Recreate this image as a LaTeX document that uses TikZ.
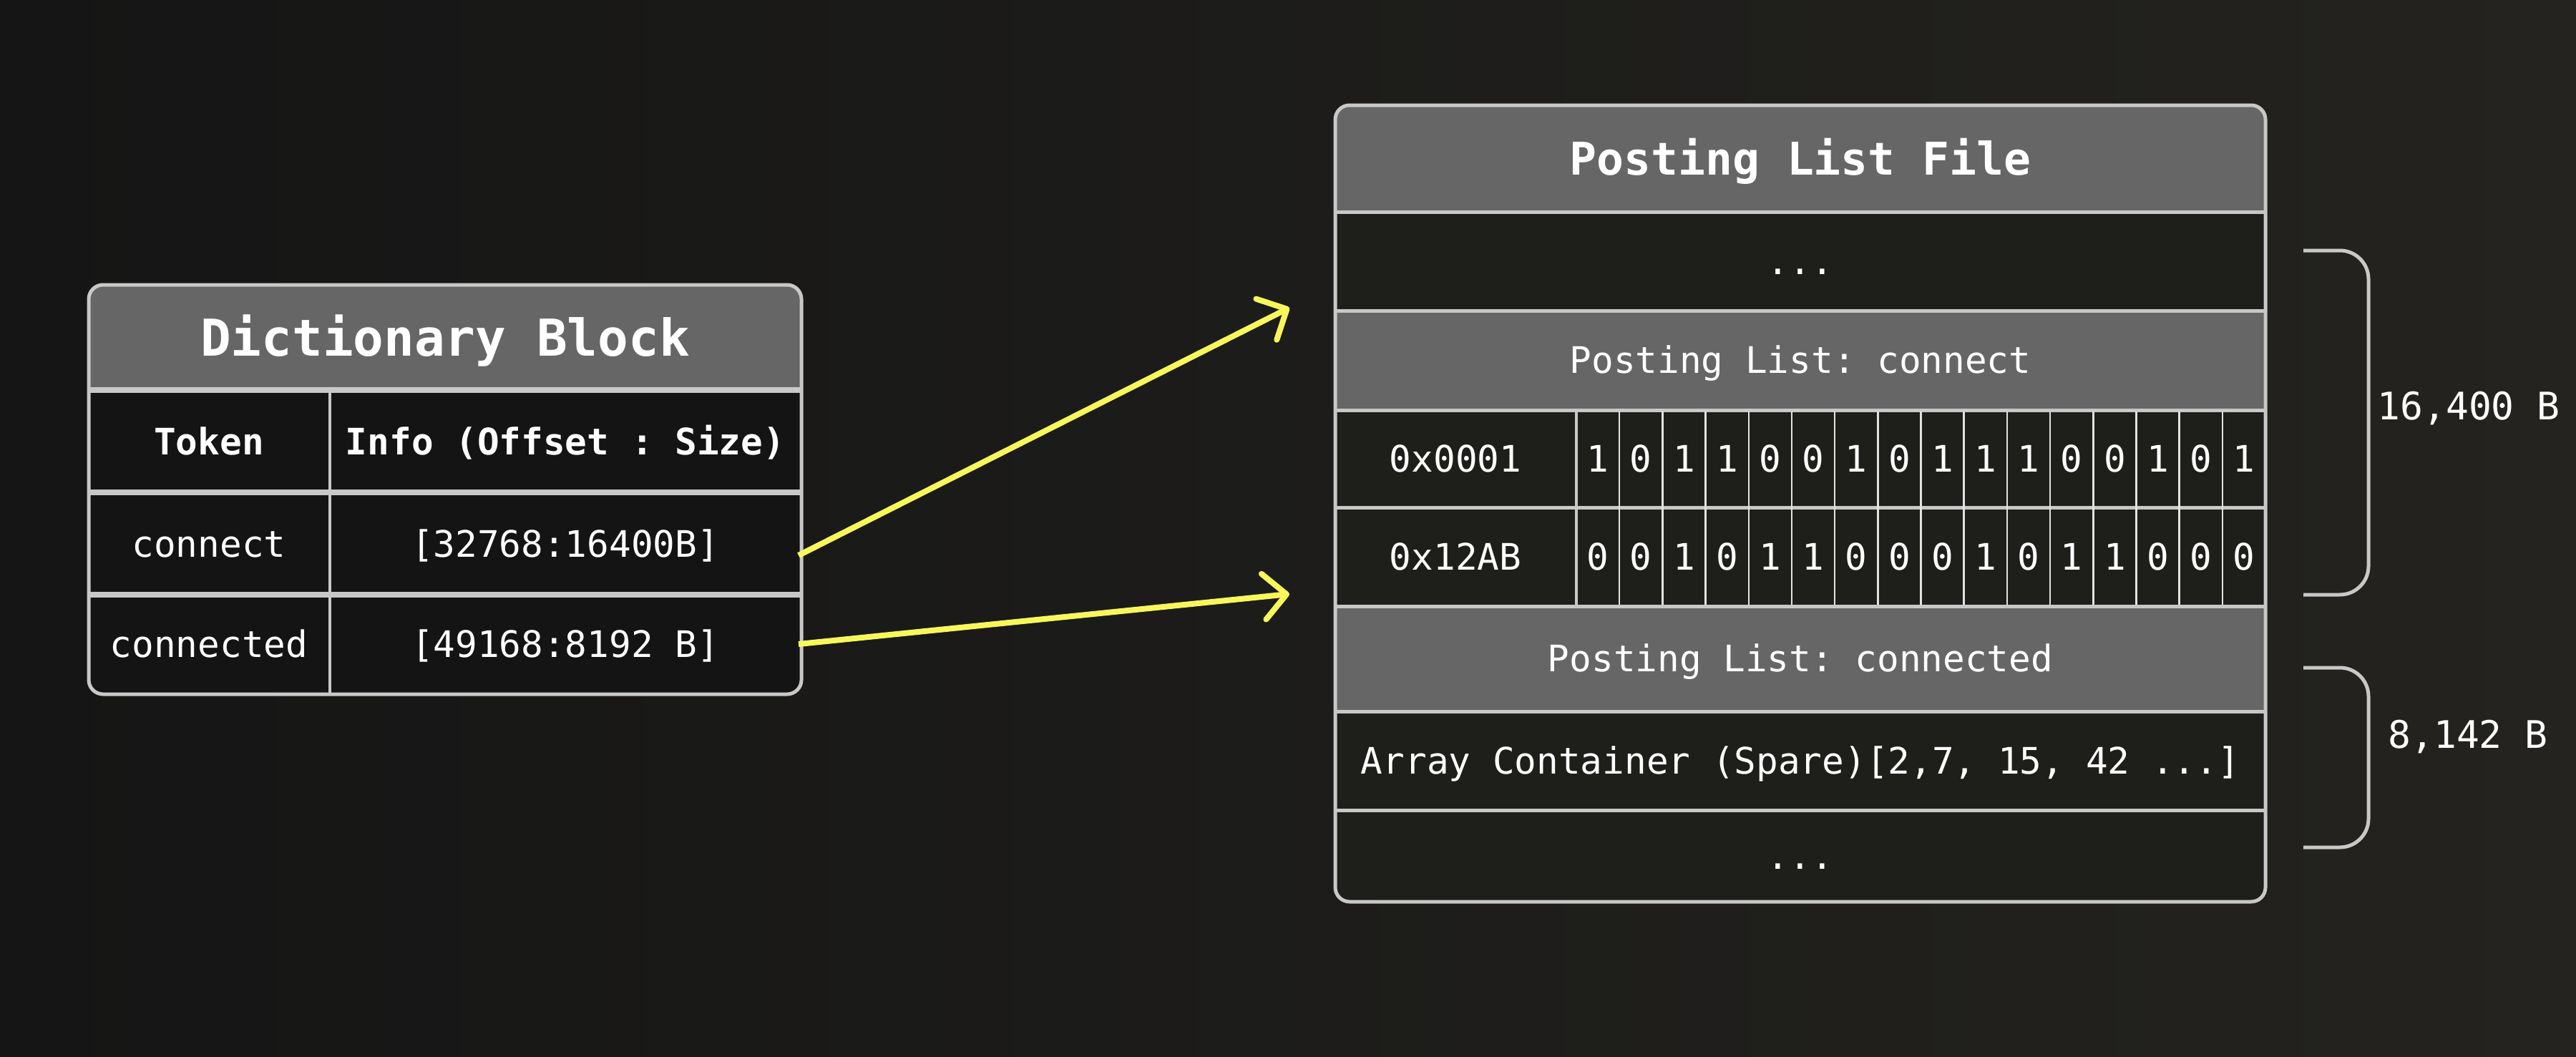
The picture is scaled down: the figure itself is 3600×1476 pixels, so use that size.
\documentclass[tikz,border=0pt]{standalone}
\usepackage{fontspec}
\setmainfont{DejaVu Sans Mono}
\setmonofont{DejaVu Sans Mono}
\usetikzlibrary{arrows.meta}
\definecolor{bgL}{HTML}{151515}
\definecolor{bgR}{HTML}{24231F}
\definecolor{edgecol}{HTML}{C8C8C8}
\definecolor{hdr}{HTML}{666666}
\definecolor{cellA}{HTML}{141414}
\definecolor{cellB}{HTML}{1E1E1B}
\definecolor{bitline}{HTML}{E2E2E2}
\definecolor{arrowY}{HTML}{F7F75C}
\begin{document}
\begin{tikzpicture}[x=1pt,y=-1pt,
  txt/.style={text=white, font=\ttfamily\fontsize{51}{60}\selectfont, inner sep=0pt, text height=37pt, text depth=0pt, anchor=center},
  txtb/.style={txt, font=\ttfamily\bfseries\fontsize{51}{60}\selectfont},
  dtitlefont/.style={text=white, font=\ttfamily\bfseries\fontsize{71}{80}\selectfont, inner sep=0pt, text height=52pt, text depth=0pt},
  ptitlefont/.style={text=white, font=\ttfamily\bfseries\fontsize{63}{72}\selectfont, inner sep=0pt, text height=46pt, text depth=0pt},
  sizelabel/.style={text=white, font=\ttfamily\fontsize{53}{60}\selectfont, inner sep=0pt, text height=39pt, text depth=0pt},
  sepline/.style={draw=edgecol, line width=5pt},
  thicksep/.style={draw=edgecol, line width=8pt},
  outerbox/.style={draw=edgecol, line width=5pt, rounded corners=20pt},
  bracket/.style={draw=edgecol, line width=5pt, rounded corners=40pt},
  arr/.style={draw=arrowY, line width=8pt, -{Straight Barb[length=32pt, width=64pt, round]}}
]
\useasboundingbox (0,0) rectangle (3600,1476);
\shade[left color=bgL, right color=bgR] (0,0) rectangle (3600,1476);

% ---------------- Dictionary Block ----------------
\fill[cellA, rounded corners=20pt] (124,398) rectangle (1120,970);
\fill[hdr] (124,545) [rounded corners=20pt] -- (124,398) -- (1120,398) [sharp corners] -- (1120,545) -- cycle;
\draw[thicksep] (124,545) -- (1120,545);
\draw[thicksep] (124,688) -- (1120,688);
\draw[thicksep] (124,831) -- (1120,831);
\draw[draw=edgecol, line width=4pt] (461,545) -- (461,970);
\draw[outerbox] (124,398) rectangle (1120,970);

\node[dtitlefont] (dtitle) at (622,471) {Dictionary Block};
\node[txtb] (dtok) at (292,617) {Token};
\node[txtb] (dinfo) at (790,617) {Info (Offset : Size)};
\node[txt] (dc1) at (292,760) {connect};
\node[txt] (di1) at (790,760) {[32768:16400B]};
\node[txt] (dc2) at (292,900) {connected};
\node[txt] (di2) at (790,900) {[49168:8192 B]};

% ---------------- Posting List File ----------------
\fill[cellB, rounded corners=20pt] (1866,147) rectangle (3166,1260);
\fill[hdr] (1866,296) [rounded corners=20pt] -- (1866,147) -- (3166,147) [sharp corners] -- (3166,296) -- cycle;
\fill[hdr] (1866,434) rectangle (3166,573);
\fill[hdr] (1866,847) rectangle (3166,994);
\foreach \yy in {296,434,573,709,847,994,1132}
  \draw[sepline] (1866,\yy) -- (3166,\yy);
\foreach \k in {1,...,15}
  \draw[draw=bitline, line width=2.5pt] ({2203+60.19*\k},575) -- ({2203+60.19*\k},845);
\draw[draw=edgecol, line width=4pt] (2203,573) -- (2203,847);
\draw[outerbox] (1866,147) rectangle (3166,1260);

\node[ptitlefont] (ptitle) at (2516,221) {Posting List File};
\node[txt] (pdots1) at (2516,365) {...};
\node[txt] (pconn) at (2516,503) {Posting List: connect};
\node[txt] (hex1) at (2034,641) {0x0001};
\node[txt] (hex2) at (2034,778) {0x12AB};
\foreach \b [count=\i] in {1,0,1,1,0,0,1,0,1,1,1,0,0,1,0,1}
  \node[txt, name=bita\i] at ({2203+60.19*(\i-0.5)},641) {\b};
\foreach \b [count=\i] in {0,0,1,0,1,1,0,0,0,1,0,1,1,0,0,0}
  \node[txt, name=bitb\i] at ({2203+60.19*(\i-0.5)},778) {\b};
\node[txt] (pconned) at (2516,920) {Posting List: connected};
\node[txt] (parray) at (2516,1063) {Array Container (Spare)[2,7, 15, 42 ...]};
\node[txt] (pdots2) at (2516,1196) {...};

% ---------------- Size brackets ----------------
\draw[bracket] (3219,350) -- (3310,350) -- (3310,831) -- (3219,831);
\draw[bracket] (3219,933) -- (3310,933) -- (3310,1184) -- (3219,1184);
\node[sizelabel] (size1) at (3450,567) {16,400 B};
\node[sizelabel] (size2) at (3449,1026) {8,142 B};

% ---------------- Arrows ----------------
\coordinate (a1s) at (1116,776);
\coordinate (a1e) at (1802,430);
\coordinate (a2s) at (1116,900);
\coordinate (a2e) at (1802,830);
\draw[arr] (a1s) -- (a1e);
\draw[arr] (a2s) -- (a2e);
\end{tikzpicture}
\end{document}
